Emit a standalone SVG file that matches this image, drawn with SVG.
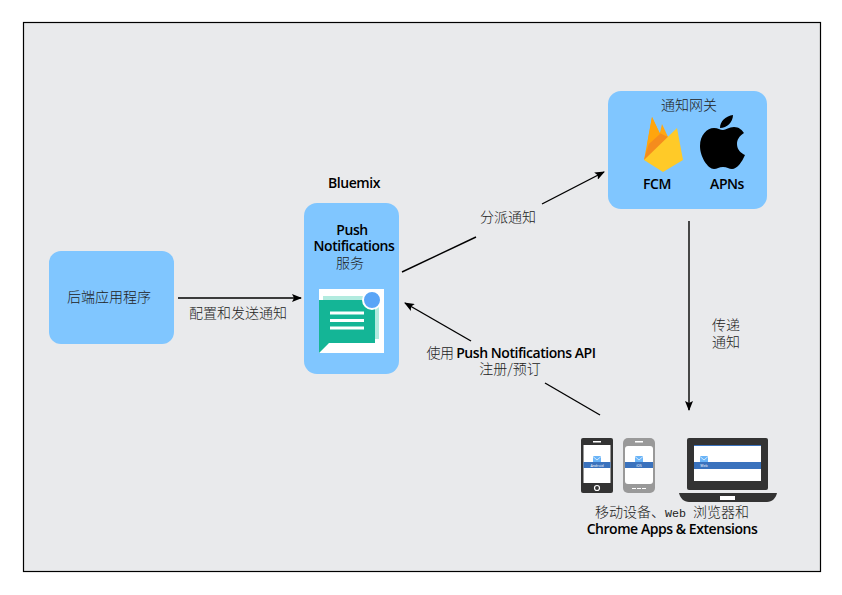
<svg xmlns="http://www.w3.org/2000/svg" width="842" height="595" viewBox="0 0 842 595">
<style>
.n{fill:#80c6ff}
.cn{font-family:"Noto Sans CJK SC","Noto Sans",sans-serif;font-size:14px;font-weight:300;fill:#222;text-anchor:middle}
.en{font-family:"Open Sans","Noto Sans",sans-serif;font-size:14px;font-weight:600;fill:#000;text-anchor:middle;letter-spacing:-.45px}
.t{font-family:"Open Sans",sans-serif;font-size:3.500px;fill:#fff;text-anchor:middle}
.c{stroke:#000;stroke-width:1.4;fill:none;marker-end:url(#a)}
.l{stroke:#000;stroke-width:1.4;fill:none}
.m{fill:#6ab4f7}
.v{fill:none;stroke:#fff;stroke-width:.7}
</style>
<defs><marker id="a" viewBox="0 0 10 8" refX="9" refY="4" markerWidth="10" markerHeight="8" markerUnits="userSpaceOnUse" orient="auto"><path d="M0 0L10 4L0 8L2 4Z" fill="#000"/></marker></defs>
<rect width="842" height="595" fill="#fff"/>
<rect x="23.500" y="22.500" width="797" height="549" fill="#e9eaec" stroke="#000" stroke-width="1.200"/>
<g id="connectors">
<path class="c" d="M178 298H301"/>
<path class="l" d="M402 272L476 237"/>
<path class="c" d="M542 204L604 172"/>
<path class="c" d="M689 221V410"/>
<path class="c" d="M471 341L405 303"/>
<path class="l" d="M545 383L600 415"/>
</g>
<g id="backend">
<rect class="n" x="49" y="251" width="125" height="93" rx="12"/>
<text class="cn" x="109" y="302">后端应用程序</text>
</g>
<text class="cn" x="238" y="318">配置和发送通知</text>
<g id="push">
<text class="en" x="354" y="188">Bluemix</text>
<rect class="n" x="304" y="203" width="95" height="171" rx="13"/>
<text class="en" x="352" y="235">Push</text>
<text class="en" x="354" y="251">Notifications</text>
<text class="cn" x="350" y="268">服务</text>
<rect x="319" y="289" width="65" height="64" fill="#fff"/>
<rect x="323" y="296" width="56" height="43" fill="#b2ebdf"/>
<path d="M319 300H375V343H329L319 353Z" fill="#14b596"/>
<path d="M330 313H364M330 320.500H364M330 328H364" stroke="#fff" stroke-width="3" fill="none"/>
<circle cx="372" cy="300" r="9" fill="#5aa5f7" stroke="#fff" stroke-width="2"/>
</g>
<text class="cn" x="508" y="222">分派通知</text>
<text class="cn" x="726" y="330">传递</text>
<text class="cn" x="726" y="347">通知</text>
<g id="gateway">
<rect class="n" x="608" y="91" width="159" height="118" rx="13"/>
<text class="cn" x="689" y="110">通知网关</text>
<path d="M644 160L652 117L664 142Z" fill="#ffa50d"/>
<path d="M662 124L668 137L656 150Z" fill="#ffa712"/>
<path d="M644 160L653 130L668 137L664 150Z" fill="#f58c1d"/>
<path d="M652 117L660 134L650 143L647 145Z" fill="#ffa50d"/>
<path d="M644 160L677 128L683 160L663 172Z" fill="#ffca28"/>
<text class="en" x="657" y="189">FCM</text>
<path d="M733 115C733 122 727 128 720 128C720 121 726 116 733 115ZM714 128C718 128 720 130 723 130C726 130 729 127 734 127C739 127 742 130 744 133C739 136 737 140 737 144C737 150 741 153 745 155C742 162 737 169 732 169C729 169 727 167 723 167C719 167 717 169 714 169C708 169 700 157 700 146C700 135 707 128 714 128Z" fill="#000"/>
<text class="en" x="727" y="189">APNs</text>
</g>
<g id="clients">
<rect x="581" y="438" width="32" height="55" rx="2" fill="#333"/>
<rect x="583.500" y="445" width="27" height="38" fill="#fff"/>
<rect x="593" y="441" width="8" height="1.500" fill="#fff"/>
<rect x="583.500" y="462" width="27" height="6" fill="#3a72bd"/>
<rect x="593" y="456" width="8" height="6" class="m"/>
<path class="v" d="M593 456.500L597 460L601 456.500"/>
<text class="t" x="597" y="466.500">Android</text>
<circle cx="597" cy="488" r="2.500" fill="#333" stroke="#fff" stroke-width="1.200"/>
<rect x="623" y="438" width="32" height="55" rx="5" fill="#999"/>
<rect x="625" y="446" width="28" height="38" rx="3" fill="#fff"/>
<rect x="635" y="441" width="8" height="1.500" fill="#fff"/>
<path d="M632 488.500h4M637 488.500h4M642 488.500h4" stroke="#fff" stroke-width="1.200"/>
<rect x="625" y="462" width="28" height="6" fill="#3a72bd"/>
<rect x="635" y="456" width="8" height="6" class="m"/>
<path class="v" d="M635 456.500L639 460L643 456.500"/>
<text class="t" x="639" y="466.500">iOS</text>
<rect x="687" y="438" width="81" height="52" rx="2" fill="#333"/>
<rect x="694" y="445" width="67" height="36" fill="#fff"/>
<rect x="694" y="445" width="67" height="1" fill="#3a72bd"/>
<rect x="694" y="462" width="67" height="7" fill="#3a72bd"/>
<rect x="700" y="456" width="8" height="6" class="m"/>
<path class="v" d="M700 456.500L704 460L708 456.500"/>
<text class="t" x="704" y="466.500">Web</text>
<path d="M679 493H777C776 498 772 502 767 502H689C684 502 680 498 679 493Z" fill="#333"/>
<rect x="720" y="496" width="15" height="4" fill="#fff"/>
<text class="cn" x="672" y="517">移动设备、<tspan font-family="Liberation Mono" font-size="11.670">Web </tspan>浏览器和</text>
<text class="en" x="672" y="534">Chrome Apps &amp; Extensions</text>
</g>
<g id="api-label">
<text x="511" y="358" text-anchor="middle" class="en"><tspan class="cn">使用 </tspan>Push Notifications API</text>
<text class="cn" x="510" y="374">注册/预订</text>
</g>
</svg>
